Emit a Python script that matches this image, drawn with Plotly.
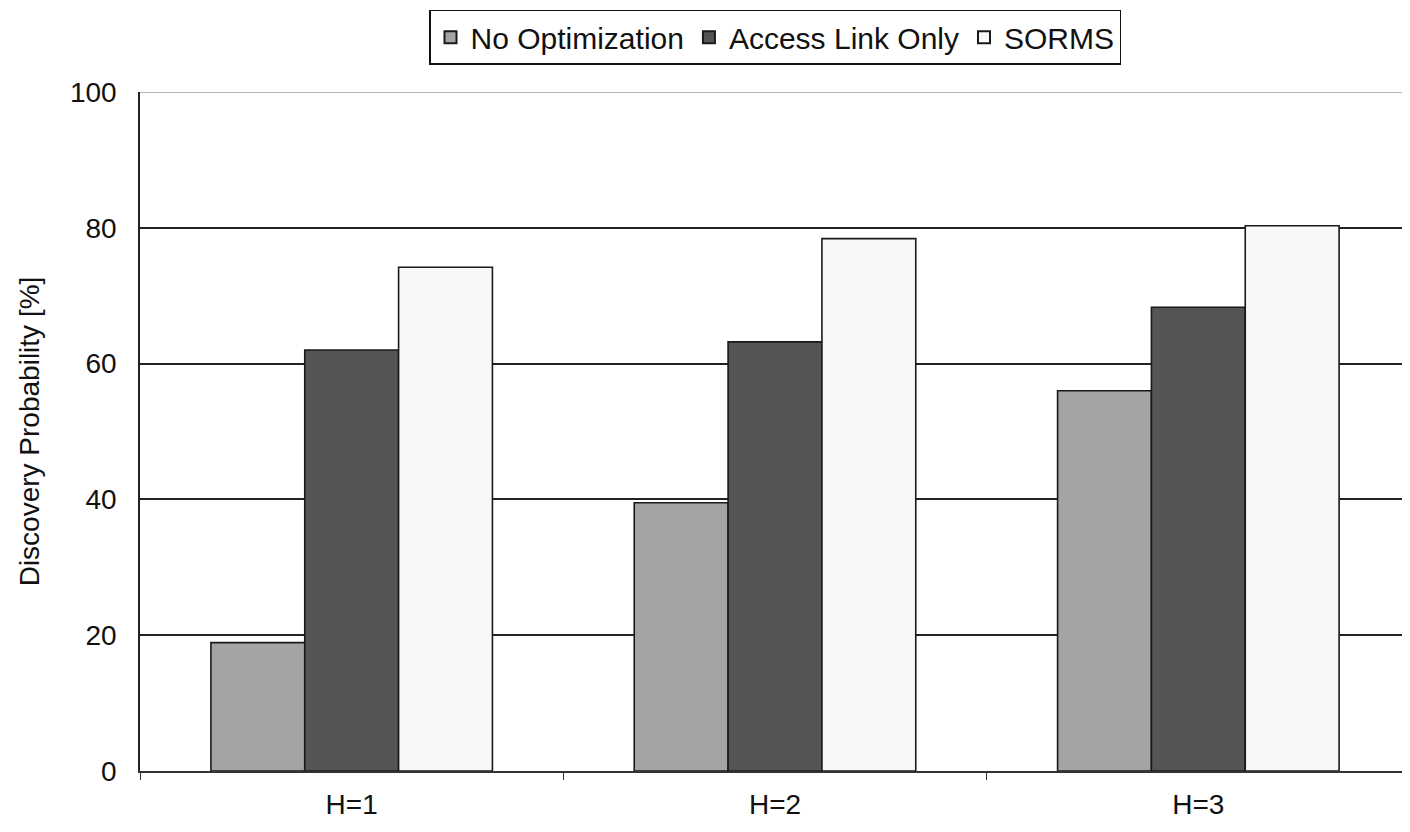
import plotly.graph_objects as go

categories = ["H=1", "H=2", "H=3"]
no_opt = [18.9, 39.5, 56.0]
access_link = [62.0, 63.2, 68.3]
sorms = [74.2, 78.4, 80.3]
series_names = ["No Optimization", "Access Link Only", "SORMS"]
y_ticks = [0, 20, 40, 60, 80, 100]

colors = ["#a4a4a4", "#555555", "#f8f8f8"]
fig = go.Figure()
for name, vals, c in zip(series_names, [no_opt, access_link, sorms], colors):
    fig.add_trace(go.Bar(x=categories, y=vals, name=name,
                         marker=dict(color=c, line=dict(color="#1a1a1a", width=1.6))))

fig.add_shape(type="line", xref="paper", yref="y", x0=0, x1=1, y0=100, y1=100,
              line=dict(color="#9a9a9a", width=1.5), layer="above")

font = "Liberation Sans, Arial, Helvetica, sans-serif"
fig.update_layout(
    width=1402, height=824,
    margin=dict(l=132, r=0, t=84, b=61, autoexpand=False),
    paper_bgcolor="white", plot_bgcolor="white",
    barmode="group", bargap=0.335, bargroupgap=0,
    font=dict(family=font, color="#111", size=28),
    showlegend=True,
    legend=dict(orientation="h", x=0.5, xanchor="center", y=1.121, yanchor="top",
                bordercolor="#111", borderwidth=1.5, bgcolor="white",
                font=dict(size=30, family=font), itemwidth=30, tracegroupgap=0,
                itemsizing="constant"),
    xaxis=dict(showline=True, linecolor="#333", linewidth=1.5, ticks="outside",
               tickson="boundaries", ticklen=7, tickcolor="#333", automargin=False,
               tickfont=dict(size=28), showgrid=False, ticklabelstandoff=8),
    yaxis=dict(range=[0, 100], tickvals=y_ticks, showline=True, linecolor="#222",
               linewidth=1.5, ticks="inside", ticklen=8, tickcolor="#222",
               showgrid=True, gridcolor="#222", gridwidth=1.5, zeroline=False,
               automargin=False, tickfont=dict(size=28), ticklabelstandoff=16,
               title=dict(text="Discovery Probability [%]", font=dict(size=28), standoff=22)),
)
fig.write_html("out.html")
